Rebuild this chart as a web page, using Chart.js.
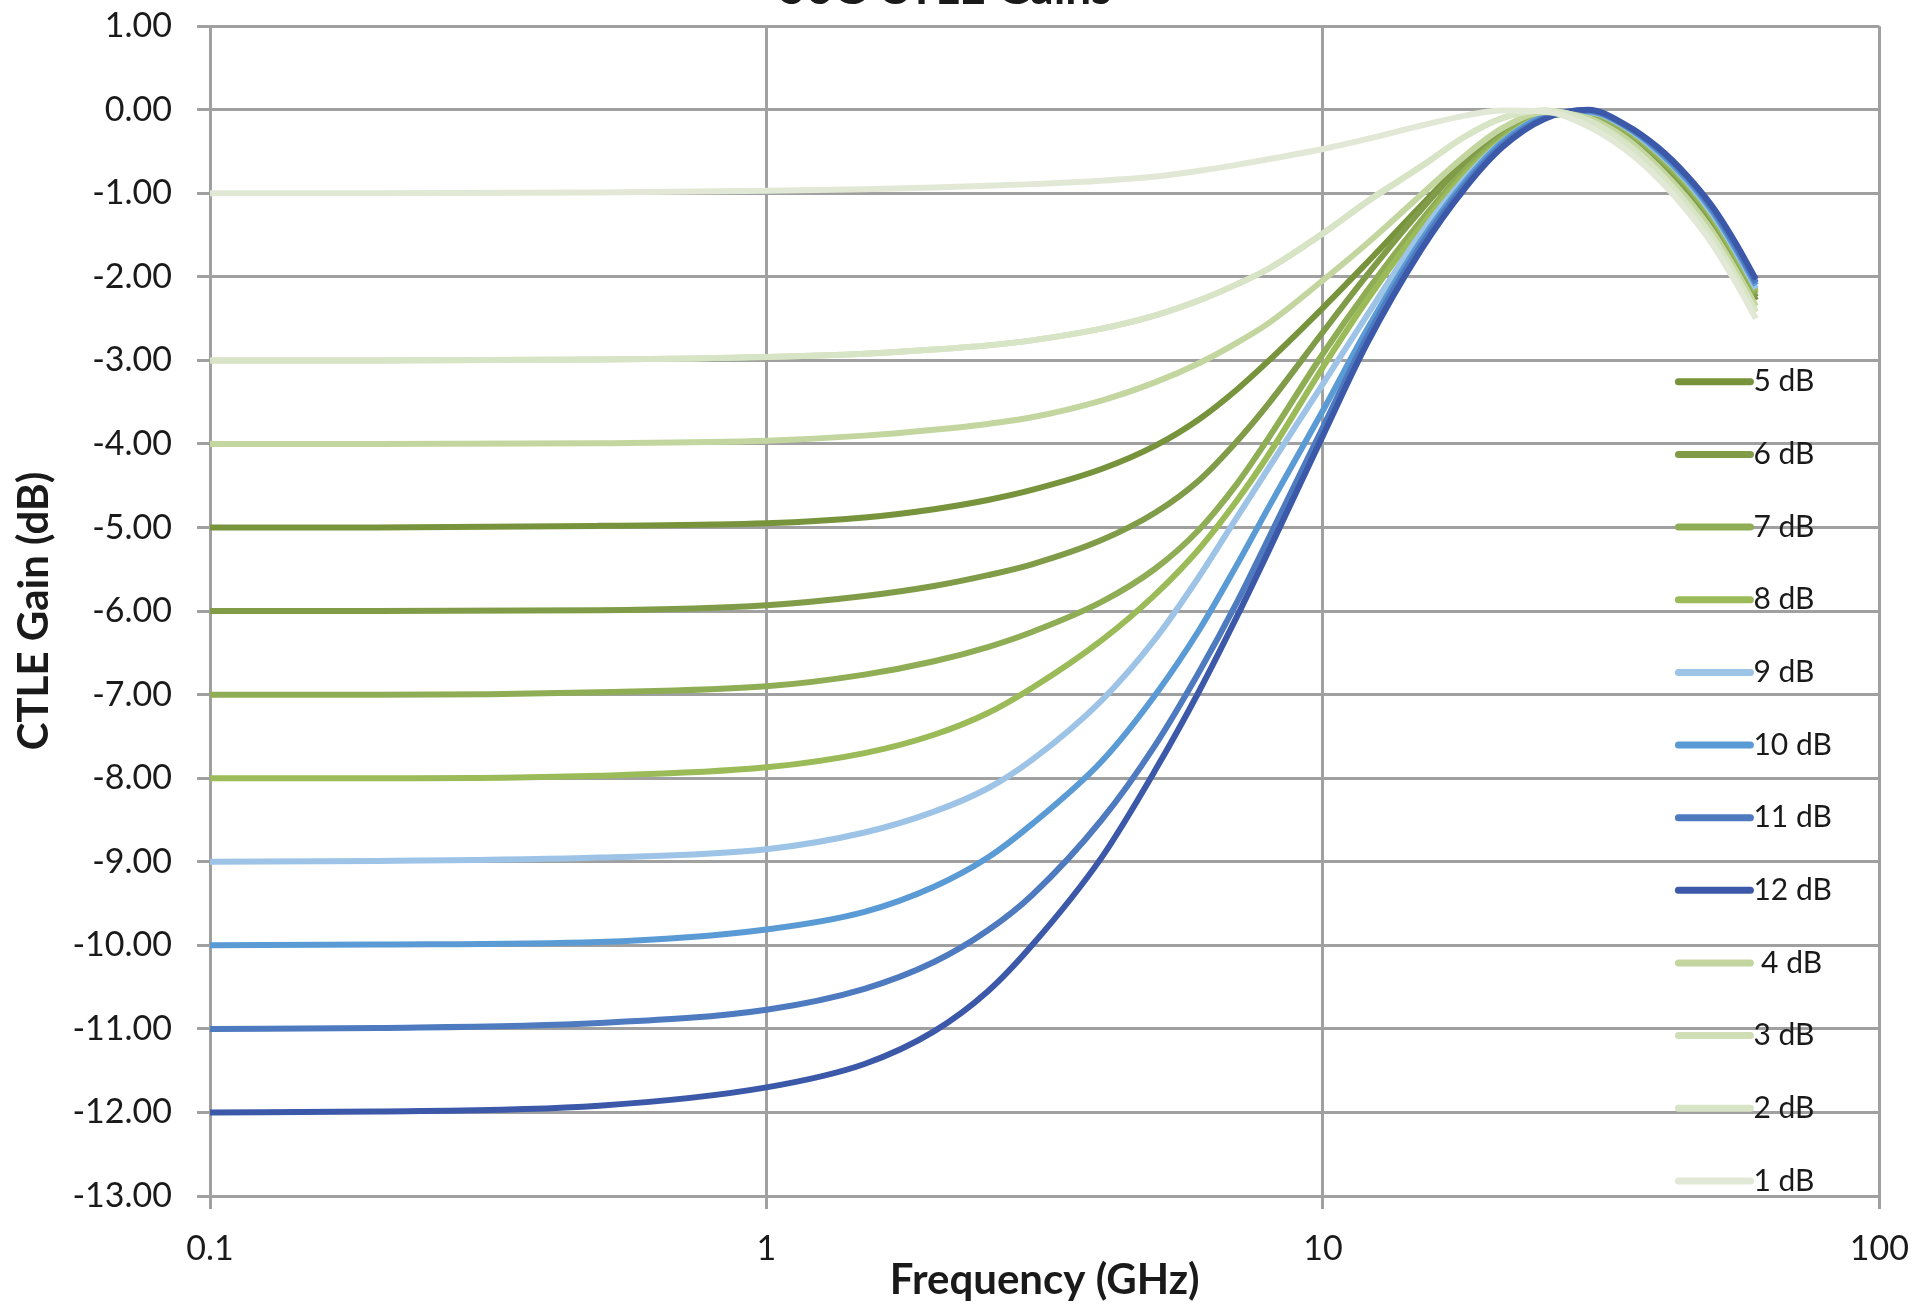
<!DOCTYPE html>
<html>
<head>
<meta charset="utf-8">
<title>56G CTLE Gains</title>
<script src="https://cdn.jsdelivr.net/npm/chart.js@4.4.0/dist/chart.umd.min.js"></script>
<style>
  html, body { margin: 0; padding: 0; background: #fff; overflow: hidden; }
  #wrap { position: absolute; left: 0; top: -60px; width: 1929px; height: 1366px; }
</style>
</head>
<body>
<div id="wrap"><canvas id="ctleChart" width="1929" height="1366"></canvas></div>
<script>
// Frequency points (GHz)
const freqGHz = [0.1, 0.2, 0.5, 1, 1.5, 2, 2.5, 3, 4, 5, 6, 7, 8, 10, 12, 15, 18, 21, 25, 30, 35, 40, 45, 50, 55, 60];

// CTLE gain (dB) per setting
const gain5  = [-5.00, -5.00, -4.98, -4.95, -4.88, -4.78, -4.67, -4.55, -4.30, -4.02, -3.70, -3.35, -3.00, -2.37, -1.83, -1.15, -0.62, -0.27, -0.05, -0.04, -0.29, -0.62, -0.98, -1.38, -1.83, -2.28];
const gain6  = [-6.00, -6.00, -5.99, -5.93, -5.82, -5.70, -5.57, -5.44, -5.15, -4.82, -4.43, -3.97, -3.51, -2.66, -1.98, -1.20, -0.63, -0.25, -0.03, -0.05, -0.27, -0.59, -0.94, -1.34, -1.79, -2.24];
const gain7  = [-7.00, -7.00, -6.97, -6.90, -6.76, -6.60, -6.43, -6.25, -5.89, -5.49, -5.02, -4.48, -3.92, -2.92, -2.17, -1.33, -0.72, -0.32, -0.07, -0.05, -0.25, -0.56, -0.91, -1.30, -1.75, -2.20];
const gain8  = [-8.00, -8.00, -7.97, -7.87, -7.70, -7.48, -7.22, -6.92, -6.35, -5.80, -5.25, -4.68, -4.12, -3.08, -2.28, -1.40, -0.77, -0.36, -0.08, -0.04, -0.23, -0.53, -0.88, -1.27, -1.72, -2.17];
const gain9  = [-9.00, -8.99, -8.95, -8.85, -8.65, -8.40, -8.12, -7.78, -7.07, -6.33, -5.58, -4.88, -4.28, -3.28, -2.46, -1.48, -0.82, -0.38, -0.08, -0.03, -0.21, -0.51, -0.85, -1.24, -1.68, -2.14];
const gain10 = [-10.00, -9.99, -9.96, -9.81, -9.60, -9.30, -8.95, -8.55, -7.80, -7.00, -6.22, -5.45, -4.75, -3.60, -2.63, -1.57, -0.86, -0.39, -0.08, -0.02, -0.20, -0.49, -0.83, -1.21, -1.65, -2.10];
const gain11 = [-11.00, -10.99, -10.93, -10.77, -10.52, -10.20, -9.82, -9.40, -8.50, -7.60, -6.72, -5.90, -5.12, -3.80, -2.72, -1.62, -0.90, -0.42, -0.10, -0.01, -0.19, -0.47, -0.80, -1.18, -1.62, -2.07];
const gain12 = [-12.00, -11.99, -11.92, -11.70, -11.42, -11.03, -10.55, -10.00, -8.95, -7.90, -6.95, -6.07, -5.27, -3.90, -2.80, -1.68, -0.94, -0.45, -0.11, 0.00, -0.18, -0.45, -0.78, -1.15, -1.58, -2.03];
const gain4  = [-4.00, -4.00, -3.99, -3.96, -3.90, -3.83, -3.76, -3.68, -3.48, -3.26, -3.03, -2.79, -2.55, -2.04, -1.60, -1.02, -0.55, -0.22, -0.03, -0.10, -0.34, -0.68, -1.05, -1.45, -1.90, -2.35];
const gain3  = [-3.00, -3.00, -2.99, -2.96, -2.92, -2.87, -2.82, -2.76, -2.62, -2.46, -2.28, -2.09, -1.90, -1.48, -1.10, -0.68, -0.32, -0.10, -0.01, -0.13, -0.40, -0.74, -1.12, -1.52, -1.97, -2.42];
const gain2  = [-3.00, -3.00, -2.99, -2.96, -2.92, -2.87, -2.82, -2.76, -2.62, -2.46, -2.28, -2.09, -1.90, -1.48, -1.10, -0.68, -0.32, -0.10, -0.01, -0.13, -0.40, -0.74, -1.12, -1.52, -1.97, -2.42];
const gain1  = [-1.00, -1.00, -0.99, -0.97, -0.95, -0.93, -0.91, -0.89, -0.85, -0.80, -0.73, -0.66, -0.59, -0.47, -0.35, -0.19, -0.07, -0.01, -0.02, -0.20, -0.48, -0.82, -1.20, -1.60, -2.05, -2.50];

const seriesNames  = ['5 dB', '6 dB', '7 dB', '8 dB', '9 dB', '10 dB', '11 dB', '12 dB', ' 4 dB', '3 dB', '2 dB', '1 dB'];
const seriesValues = [gain5, gain6, gain7, gain8, gain9, gain10, gain11, gain12, gain4, gain3, gain2, gain1];
const seriesColors = ['#77933c', '#819c49', '#8fad55', '#9bbb59', '#9dc3e6', '#5b9bd5', '#4e7ac0', '#3c58a8',
                      '#c4d6a0', '#cfdeb5', '#d8e4c6', '#e1e9d6'];

const xTickValues = [0.1, 1, 10, 100];

const gridColor = '#a0a0a0';
const textColor = '#1a1a1a';
const fontFamily = 'Lato, "Open Sans", sans-serif';

// legend drawn inside the plot, on the right
const sideLegend = {
  id: 'sideLegend',
  afterDatasetsDraw(chart) {
    const { ctx, chartArea } = chart;
    const h = chartArea.bottom - chartArea.top;
    ctx.save();
    ctx.font = '30px ' + fontFamily;
    ctx.textBaseline = 'middle';
    ctx.textAlign = 'left';
    ctx.lineCap = 'round';
    chart.data.datasets.forEach((ds, i) => {
      const y = chartArea.top + h * (0.304 + i * 0.0621);
      const x0 = chartArea.right - 201;
      ctx.strokeStyle = ds.borderColor;
      ctx.lineWidth = 7;
      ctx.beginPath();
      ctx.moveTo(x0, y);
      ctx.lineTo(x0 + 72, y);
      ctx.stroke();
      ctx.fillStyle = textColor;
      ctx.fillText(ds.label, x0 + 75, y);
    });
    ctx.restore();
  }
};

const datasets = seriesNames.map((name, i) => ({
  label: name,
  data: freqGHz.map((f, j) => ({ x: f, y: seriesValues[i][j] })),
  borderColor: seriesColors[i],
  backgroundColor: seriesColors[i],
  borderWidth: 6,
  pointRadius: 0,
  fill: false,
  cubicInterpolationMode: 'monotone',
  order: -i
}));

new Chart(document.getElementById('ctleChart').getContext('2d'), {
  type: 'line',
  data: { datasets },
  plugins: [sideLegend],
  options: {
    responsive: false,
    animation: false,
    layout: { padding: { left: 0, right: 38, top: 0, bottom: 0 } },
    plugins: {
      legend: { display: false },
      tooltip: { enabled: false },
      title: {
        display: true,
        text: '56G CTLE Gains',
        color: textColor,
        font: { family: fontFamily, size: 46, weight: 'bold' },
        padding: { top: 22, bottom: 9 }
      }
    },
    scales: {
      x: {
        type: 'logarithmic',
        min: 0.1,
        max: 100,
        afterBuildTicks: (scale) => { scale.ticks = xTickValues.map(v => ({ value: v })); },
        afterFit: (scale) => { scale.height = 110; },
        ticks: {
          color: textColor,
          font: { family: fontFamily, size: 34 },
          padding: 20,
          maxRotation: 0,
          autoSkip: false,
          callback: (v) => String(v)
        },
        grid: { color: gridColor, lineWidth: 3, tickLength: 13, drawTicks: true },
        border: { color: gridColor, width: 3 },
        title: {
          display: true,
          text: 'Frequency (GHz)',
          color: textColor,
          font: { family: fontFamily, size: 42, weight: 'bold' },
          padding: { top: 0, bottom: 0 }
        }
      },
      y: {
        type: 'linear',
        min: -13,
        max: 1,
        afterFit: (scale) => { scale.width = 210; },
        ticks: {
          stepSize: 1,
          color: textColor,
          font: { family: fontFamily, size: 34 },
          padding: 25,
          callback: (v) => Number(v).toFixed(2)
        },
        grid: { color: gridColor, lineWidth: 3, tickLength: 13, drawTicks: true },
        border: { color: gridColor, width: 3 },
        title: {
          display: true,
          text: 'CTLE Gain (dB)',
          color: textColor,
          font: { family: fontFamily, size: 42, weight: 'bold' },
          padding: { top: 9, bottom: 0 }
        }
      }
    }
  }
});
</script>
</body>
</html>
